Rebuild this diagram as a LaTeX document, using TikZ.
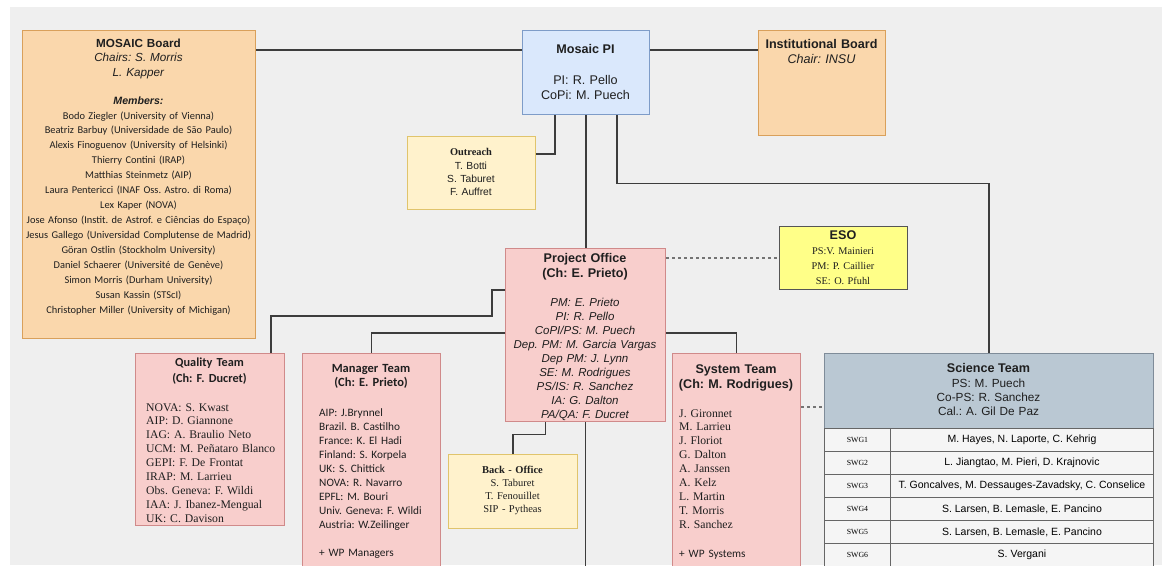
\documentclass[tikz,border=0pt]{standalone}
\usepackage{fontspec}
\setmainfont{Liberation Serif}
\setsansfont{Liberation Sans}
\newfontfamily\carlito{Carlito}

\definecolor{bggray}{HTML}{EFEFEF}
\definecolor{orfill}{HTML}{FAD7AC}
\definecolor{ordraw}{HTML}{D9A05B}
\definecolor{bluefill}{HTML}{DAE8FC}
\definecolor{bluedraw}{HTML}{7E9CC8}
\definecolor{yelfill}{HTML}{FFF2CC}
\definecolor{yeldraw}{HTML}{E0C46C}
\definecolor{esofill}{HTML}{FFFF88}
\definecolor{esodraw}{HTML}{555555}
\definecolor{redfill}{HTML}{F8CECC}
\definecolor{reddraw}{HTML}{D08A8A}
\definecolor{scifill}{HTML}{BAC8D3}
\definecolor{scidraw}{HTML}{7F8C99}
\definecolor{cellfill}{HTML}{F5F5F5}
\definecolor{linegray}{HTML}{3C3C3C}

\newcommand{\headfont}{\sffamily\bfseries\fontsize{12.6}{15}\selectfont}

\tikzset{
  box/.style={rectangle, anchor=north west, inner sep=0pt, line width=1.1pt},
  orangebox/.style={box, fill=orfill, draw=ordraw},
  bluebox/.style={box, fill=bluefill, draw=bluedraw},
  yellowbox/.style={box, fill=yelfill, draw=yeldraw},
  esobox/.style={box, fill=esofill, draw=esodraw},
  redbox/.style={box, fill=redfill, draw=reddraw},
  scibox/.style={box, fill=scifill, draw=scidraw},
  cell/.style={box, fill=cellfill, draw=black!60, line width=0.9pt, minimum height=23},
  txt/.style={inner sep=0pt, anchor=base, text=black!88},
  conn/.style={draw=linegray, line width=1.2pt},
  dashconn/.style={draw=black!55, line width=1.1pt, dash pattern=on 3pt off 3pt},
}

\begin{document}
\frenchspacing
\begin{tikzpicture}[x=1pt, y=-1pt]
    \useasboundingbox (0,0) rectangle (1162,565);
    \clip (0,0) rectangle (1162,565);
    \fill[white] (0,0) rectangle (1162,565);
    \fill[bggray] (10,7) rectangle (1162,565);

    % top row
    \node[orangebox, minimum width=233, minimum height=308] (board) at (22,30) {};
    \node[txt, text width=233, align=center, font=\sffamily\fontsize{11.7}{14.5}\selectfont] (board-head) at (138.5,47) {\textbf{MOSAIC Board}\\\textit{Chairs: S. Morris}\\\textit{L. Kapper}};
    \node[txt, font=\sffamily\bfseries\itshape\fontsize{10.6}{13}\selectfont] (board-memhead) at (138.5,104.8) {Members:};
    \node[txt, text width=233, align=center, font=\carlito\fontsize{10.4}{14.95}\selectfont] (board-members) at (138.5,119) {Bodo Ziegler (University of Vienna)\\Beatriz Barbuy (Universidade de São Paulo)\\Alexis Finoguenov (University of Helsinki)\\Thierry Contini (IRAP)\\Matthias Steinmetz (AIP)\\Laura Pentericci (INAF Oss. Astro. di Roma)\\Lex Kaper (NOVA)\\Jose Afonso (Instit. de Astrof. e Ciências do Espaço)\\Jesus Gallego (Universidad Complutense de Madrid)\\Göran Ostlin (Stockholm University)\\Daniel Schaerer (Université de Genève)\\Simon Morris (Durham University)\\Susan Kassin (STScI)\\Christopher Miller (University of Michigan)};

    \node[bluebox, minimum width=127, minimum height=84] (pi) at (522,30) {};
    \node[txt, font=\headfont] (pi-title) at (585.5,53.5) {Mosaic PI};
    \node[txt, text width=127, align=center, font=\sffamily\fontsize{12.6}{15}\selectfont] (pi-names) at (585.5,84.5) {PI: R. Pello\\CoPi: M. Puech};

    \node[orangebox, minimum width=127, minimum height=105] (inst) at (758,30) {};
    \node[txt, text width=127, align=center, font=\sffamily\fontsize{12.6}{14.5}\selectfont] (inst-text) at (821.5,48.5) {\textbf{Institutional Board}\\\textit{Chair: INSU}};

    \node[yellowbox, minimum width=128, minimum height=73] (outreach) at (407,136) {};
    \node[txt, font=\rmfamily\bfseries\fontsize{10.4}{13}\selectfont] (outreach-title) at (471,155.6) {Outreach};
    \node[txt, text width=128, align=center, font=\sffamily\fontsize{10.3}{13.4}\selectfont] (outreach-names) at (471,169) {T. Botti\\S. Taburet\\F. Auffret};

    \node[esobox, minimum width=128, minimum height=63] (eso) at (779,226) {};
    \node[txt, font=\headfont] (eso-title) at (843,239.5) {ESO};
    \node[txt, text width=128, align=center, font=\rmfamily\fontsize{10.3}{15}\selectfont] (eso-names) at (843,254.5) {PS:V. Mainieri\\PM: P. Caillier\\SE: O. Pfuhl};

    % project office
    \node[redbox, minimum width=160, minimum height=173] (office) at (505,248) {};
    \node[txt, text width=160, align=center, font=\headfont] (office-title) at (585,262.2) {Project Office\\(Ch: E. Prieto)};
    \node[txt, text width=160, align=center, font=\sffamily\itshape\fontsize{11.5}{14}\selectfont] (office-names) at (585,306) {PM: E. Prieto\\PI: R. Pello\\CoPI/PS: M. Puech\\Dep. PM: M. Garcia Vargas\\Dep PM: J. Lynn\\SE: M. Rodrigues\\PS/IS: R. Sanchez\\IA: G. Dalton\\PA/QA: F. Ducret};

    \node[yellowbox, minimum width=129, minimum height=74] (backoffice) at (448,454) {};
    \node[txt, text width=129, align=center, font=\rmfamily\fontsize{10.5}{13}\selectfont] (backoffice-text) at (512.5,473.5) {\textbf{Back - Office}\\S. Taburet\\T. Fenouillet\\SIP - Pytheas};

    % teams
    \node[redbox, minimum width=149, minimum height=172] (quality) at (135,353) {};
    \node[txt, text width=149, align=center, font=\carlito\bfseries\fontsize{12.3}{16}\selectfont] (quality-title) at (209.5,366.5) {Quality Team\\(Ch: F. Ducret)};
    \node[txt, anchor=base west, text width=135, align=left, font=\rmfamily\fontsize{11.7}{13.9}\selectfont] (quality-names) at (146,411) {NOVA: S. Kwast\\AIP: D. Giannone\\IAG: A. Braulio Neto\\UCM: M. Peñataro Blanco\\GEPI: F. De Frontat\\IRAP: M. Larrieu\\Obs. Geneva: F. Wildi\\IAA: J. Ibanez-Mengual\\UK: C. Davison};

    \node[redbox, minimum width=138, minimum height=222] (manager) at (302,353) {};
    \node[txt, text width=138, align=center, font=\carlito\bfseries\fontsize{12.5}{14.5}\selectfont] (manager-title) at (371,372) {Manager Team\\(Ch: E. Prieto)};
    \node[txt, anchor=base west, text width=118, align=left, font=\carlito\fontsize{11.3}{14}\selectfont] (manager-names) at (319,416.6) {AIP: J.Brynnel\\Brazil. B. Castilho\\France: K. El Hadi\\Finland: S. Korpela\\UK: S. Chittick\\NOVA: R. Navarro\\EPFL: M. Bouri\\Univ. Geneva: F. Wildi\\Austria: W.Zeilinger\\[14pt]+ WP Managers};

    \node[redbox, minimum width=128, minimum height=222] (system) at (672,353) {};
    \node[txt, text width=128, align=center, font=\headfont] (system-title) at (736,373.5) {System Team\\(Ch: M. Rodrigues)};
    \node[txt, anchor=base west, text width=118, align=left, font=\rmfamily\fontsize{11.7}{13.9}\selectfont] (system-names) at (679,417) {J. Gironnet\\M. Larrieu\\J. Floriot\\G. Dalton\\A. Janssen\\A. Kelz\\L. Martin\\T. Morris\\R. Sanchez\\[15pt]{\carlito\fontsize{11.3}{13.9}\selectfont + WP Systems}};

    % science team
    \node[scibox, minimum width=329, minimum height=75] (science) at (824,353) {};
    \node[txt, font=\headfont] (science-title) at (988.5,372.5) {Science Team};
    \node[txt, text width=329, align=center, font=\sffamily\fontsize{11.8}{14.2}\selectfont] (science-names) at (988.5,387.3) {PS: M. Puech\\Co-PS: R. Sanchez\\Cal.: A. Gil De Paz};

    \node[cell, minimum width=66, font=\rmfamily\fontsize{7.8}{9}\selectfont] (swg1) at (824,428) {SWG1};
    \node[cell, minimum width=263, font=\sffamily\fontsize{10.5}{12}\selectfont] (swg1-names) at (890,428) {M. Hayes, N. Laporte, C. Kehrig};
    \node[cell, minimum width=66, font=\rmfamily\fontsize{7.8}{9}\selectfont] (swg2) at (824,451) {SWG2};
    \node[cell, minimum width=263, font=\sffamily\fontsize{10.5}{12}\selectfont] (swg2-names) at (890,451) {L. Jiangtao, M. Pieri, D. Krajnovic};
    \node[cell, minimum width=66, font=\rmfamily\fontsize{7.8}{9}\selectfont] (swg3) at (824,474) {SWG3};
    \node[cell, minimum width=263, font=\sffamily\fontsize{10.5}{12}\selectfont] (swg3-names) at (890,474) {T. Goncalves, M. Dessauges-Zavadsky, C. Conselice};
    \node[cell, minimum width=66, font=\rmfamily\fontsize{7.8}{9}\selectfont] (swg4) at (824,497) {SWG4};
    \node[cell, minimum width=263, font=\sffamily\fontsize{10.5}{12}\selectfont] (swg4-names) at (890,497) {S. Larsen, B. Lemasle, E. Pancino};
    \node[cell, minimum width=66, font=\rmfamily\fontsize{7.8}{9}\selectfont] (swg5) at (824,520) {SWG5};
    \node[cell, minimum width=263, font=\sffamily\fontsize{10.5}{12}\selectfont] (swg5-names) at (890,520) {S. Larsen, B. Lemasle, E. Pancino};
    \node[cell, minimum width=66, font=\rmfamily\fontsize{7.8}{9}\selectfont] (swg6) at (824,543) {SWG6};
    \node[cell, minimum width=263, font=\sffamily\fontsize{10.5}{12}\selectfont] (swg6-names) at (890,543) {S. Vergani};

    % connectors
    \coordinate (office-end) at (585,570);
    \draw[conn] ([yshift=-20pt]pi.north west) -- ([yshift=-20pt]pi.north west -| board.east);
    \draw[conn] ([yshift=-20pt]pi.north east) -- ([yshift=-20pt]pi.north east -| inst.west);
    \draw[conn] ([xshift=-31pt]pi.south) |- ([yshift=-18pt]outreach.north east);
    \draw[conn] (pi.south) -- (pi.south |- office.north);
    \draw[conn] ([xshift=31pt]pi.south) -- ++(0,68) -| (science.north);
    \draw[dashconn] ([yshift=-10pt]office.north east) -- ([yshift=-10pt]office.north east -| eso.west);
    \draw[conn] ([yshift=-42pt]office.north west) -- ++(-13,0) -- ++(0,26) -| ([xshift=61pt]quality.north);
    \draw[conn] ([yshift=-85pt]office.north west) -| (manager.north);
    \draw[conn] ([yshift=-85pt]office.north east) -| (system.north);
    \draw[conn] ([xshift=-40pt]office.south) -- ++(0,12) -| (backoffice.north);
    \draw[conn] (office.south) -- (office.south |- office-end);
    \draw[dashconn] ([yshift=-54pt]system.north east) -- ([yshift=-54pt]system.north east -| science.west);
\end{tikzpicture}
\end{document}
